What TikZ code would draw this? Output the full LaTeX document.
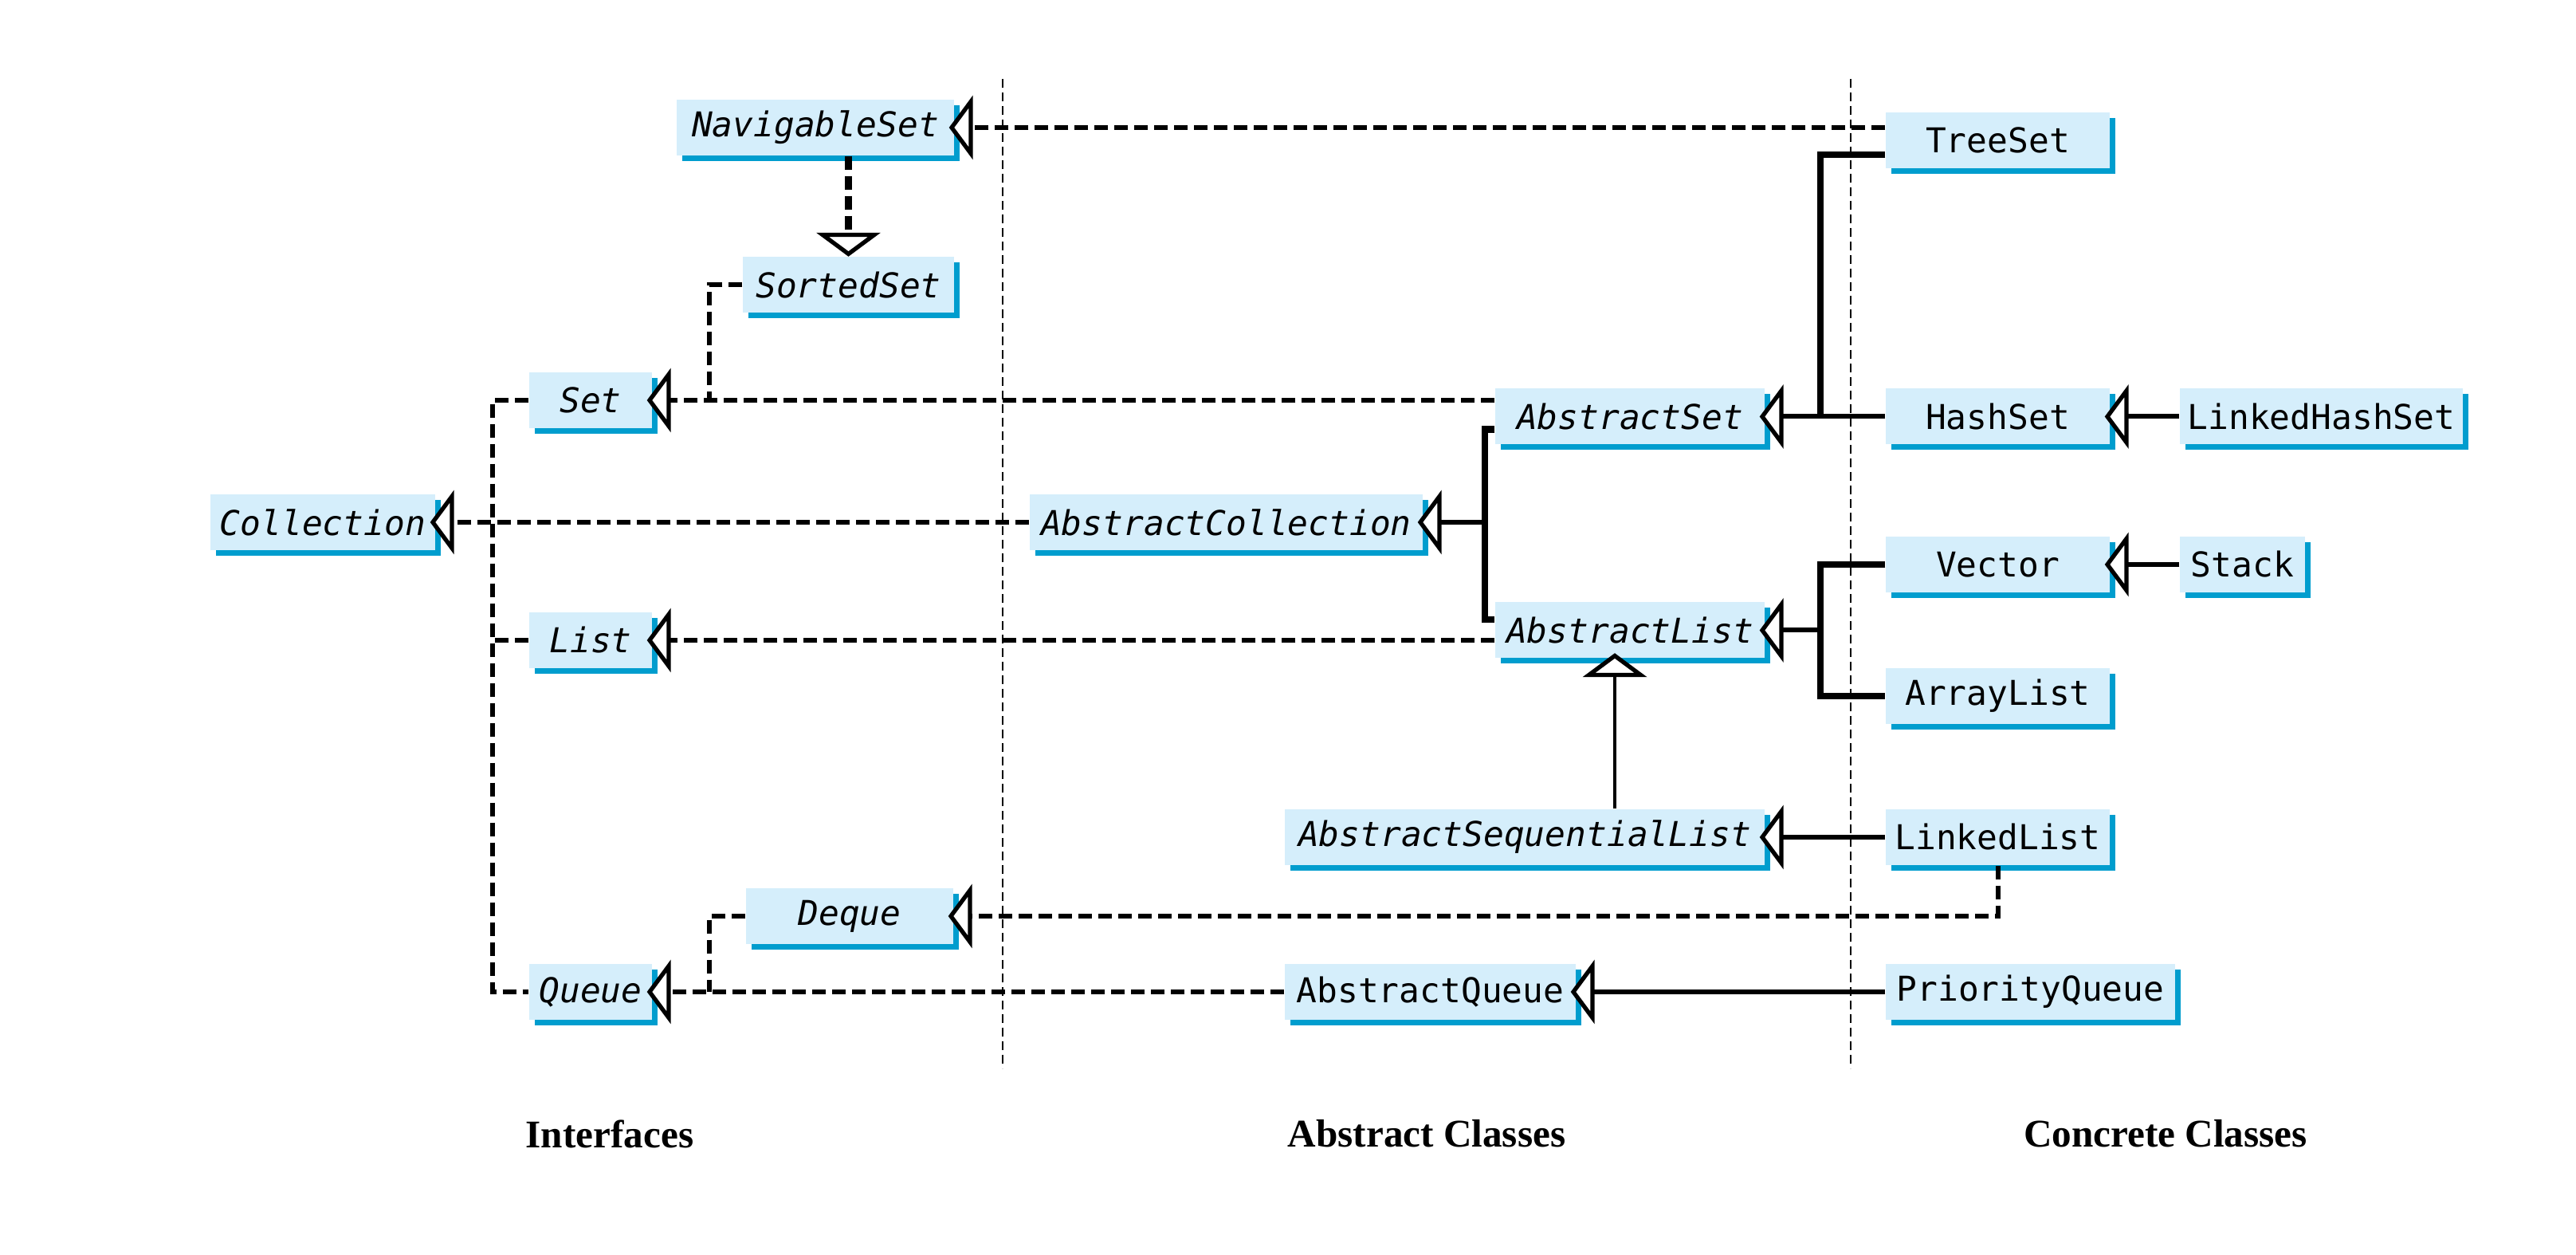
\documentclass[tikz,border=0pt]{standalone}
\usepackage{fontspec}
\setmonofont{DejaVu Sans Mono}
\newfontfamily\labelfont{Liberation Serif}
\usetikzlibrary{arrows.meta,shadows}
\definecolor{boxfill}{RGB}{213,238,251}
\definecolor{boxshadow}{RGB}{0,157,206}

\begin{document}
\begin{tikzpicture}[scale=1, >={Triangle[length=3mm, width=8mm, fill=white, line width=1.5pt]}]
\tikzstyle{box} = [rectangle, inner sep=0, minimum height=0.70cm, fill=boxfill, drop shadow={shadow xshift=0.07cm, shadow yshift=-0.07cm, fill=boxshadow, opacity=1}, font=\ttfamily\fontsize{12.2}{14}\selectfont]
\tikzstyle{ibox} = [box, font=\ttfamily\itshape\fontsize{12.2}{14}\selectfont]
\tikzstyle{impl} = [draw, line width=1.7pt, dash pattern=on 1.7mm off 0.8mm]
\tikzstyle{ext} = [draw, line width=1.7pt]
\tikzstyle{bracket} = [draw, line width=2.4pt]
\tikzstyle{sep} = [draw, line width=0.5pt, dash pattern=on 1.1mm off 0.6mm]
\tikzstyle{tip} = [->, shorten >=-0.7mm]
\tikzstyle{title} = [font=\labelfont\bfseries\fontsize{14}{16}\selectfont]
\useasboundingbox (0,0) rectangle (32.32,15.74);
% column separators
\coordinate (s1top) at (12.58, 14.75);
\coordinate (s1bot) at (12.58, 2.34);
\coordinate (s2top) at (23.22, 14.75);
\coordinate (s2bot) at (23.22, 2.34);
\draw[sep] (s1top) -- (s1bot);
\draw[sep] (s2top) -- (s2bot);
% interfaces
\node[ibox, minimum width=3.48cm] (NavigableSet) at (10.230, 14.140) {NavigableSet};
\node[ibox, minimum width=2.65cm] (SortedSet) at (10.645, 12.165) {SortedSet};
\node[ibox, minimum width=1.54cm] (Set) at (7.410, 10.720) {Set};
\node[ibox, minimum width=2.82cm] (Collection) at (4.050, 9.190) {Collection};
\node[ibox, minimum width=1.54cm] (List) at (7.410, 7.710) {List};
\node[ibox, minimum width=2.60cm] (Deque) at (10.660, 4.250) {Deque};
\node[ibox, minimum width=1.54cm] (Queue) at (7.410, 3.300) {Queue};
% abstract classes
\node[ibox, minimum width=3.38cm] (AbstractSet) at (20.450, 10.515) {AbstractSet};
\node[ibox, minimum width=4.93cm] (AbstractCollection) at (15.385, 9.190) {AbstractCollection};
\node[ibox, minimum width=3.38cm] (AbstractList) at (20.450, 7.835) {AbstractList};
\node[ibox, minimum width=6.02cm] (AbstractSequentialList) at (19.130, 5.240) {AbstractSequentialList};
\node[box, minimum width=3.65cm] (AbstractQueue) at (17.945, 3.300) {AbstractQueue};
% concrete classes
\node[box, minimum width=2.81cm] (TreeSet) at (25.065, 13.980) {TreeSet};
\node[box, minimum width=2.81cm] (HashSet) at (25.065, 10.515) {HashSet};
\node[box, minimum width=3.55cm] (LinkedHashSet) at (29.125, 10.515) {LinkedHashSet};
\node[box, minimum width=2.81cm] (Vector) at (25.065, 8.660) {Vector};
\node[box, minimum width=1.57cm] (Stack) at (28.135, 8.660) {Stack};
\node[box, minimum width=2.81cm] (ArrayList) at (25.065, 7.010) {ArrayList};
\node[box, minimum width=2.81cm] (LinkedList) at (25.065, 5.240) {LinkedList};
\node[box, minimum width=3.63cm] (PriorityQueue) at (25.475, 3.300) {PriorityQueue};
% junctions
\coordinate (cb) at (6.18, 9.19);
\coordinate (sb) at (8.90, 10.72);
\coordinate (qb) at (8.90, 3.30);
\coordinate (acb) at (18.63, 9.19);
\coordinate (asb) at (22.84, 10.515);
\coordinate (alb) at (22.84, 7.835);
% interface links
\draw[impl, tip] (AbstractCollection.west) -- (Collection.east);
\draw[impl] (Set.west) -| (cb) |- (Queue.west);
\draw[impl] (List.west) -- (List.west -| cb);
\draw[impl, tip] (AbstractSet.west |- Set.east) -- (Set.east);
\draw[impl] (SortedSet.west) -| (sb);
\draw[impl, tip] (AbstractList.west |- List.east) -- (List.east);
\draw[impl, tip] (AbstractQueue.west) -- (Queue.east);
\draw[impl] (Deque.west) -| (qb);
\draw[impl, tip] (TreeSet.west |- NavigableSet.east) -- (NavigableSet.east);
\draw[impl, line width=2.4pt, ->] (NavigableSet.south -| SortedSet.north) -- (SortedSet.north);
\draw[impl, tip] (LinkedList.south) |- (Deque.east);
% class links
\draw[bracket] ([yshift=-0.16cm]AbstractSet.west) -| (acb) |- ([yshift=0.135cm]AbstractList.west);
\draw[ext, tip] (acb) -- (AbstractCollection.east);
\draw[bracket] ([yshift=-0.18cm]TreeSet.west) -| (asb);
\draw[ext, tip] (HashSet.west) -- (AbstractSet.east);
\draw[bracket] (Vector.west) -| (alb) |- (ArrayList.west);
\draw[ext, tip] (alb) -- (AbstractList.east);
\draw[ext, line width=1.3pt, tip] ([xshift=-0.19cm]AbstractList.south |- AbstractSequentialList.north) -- ([xshift=-0.19cm]AbstractList.south);
\draw[ext, tip] (LinkedList.west) -- (AbstractSequentialList.east);
\draw[ext, tip] (PriorityQueue.west) -- (AbstractQueue.east);
\draw[ext, tip] (LinkedHashSet.west) -- (HashSet.east);
\draw[ext, tip] (Stack.west) -- (Vector.east);
% column titles
\node[title] (tInterfaces) at (7.65, 1.52) {Interfaces};
\node[title] (tAbstract) at (17.90, 1.52) {Abstract Classes};
\node[title] (tConcrete) at (27.17, 1.52) {Concrete Classes};
\end{tikzpicture}
\end{document}
